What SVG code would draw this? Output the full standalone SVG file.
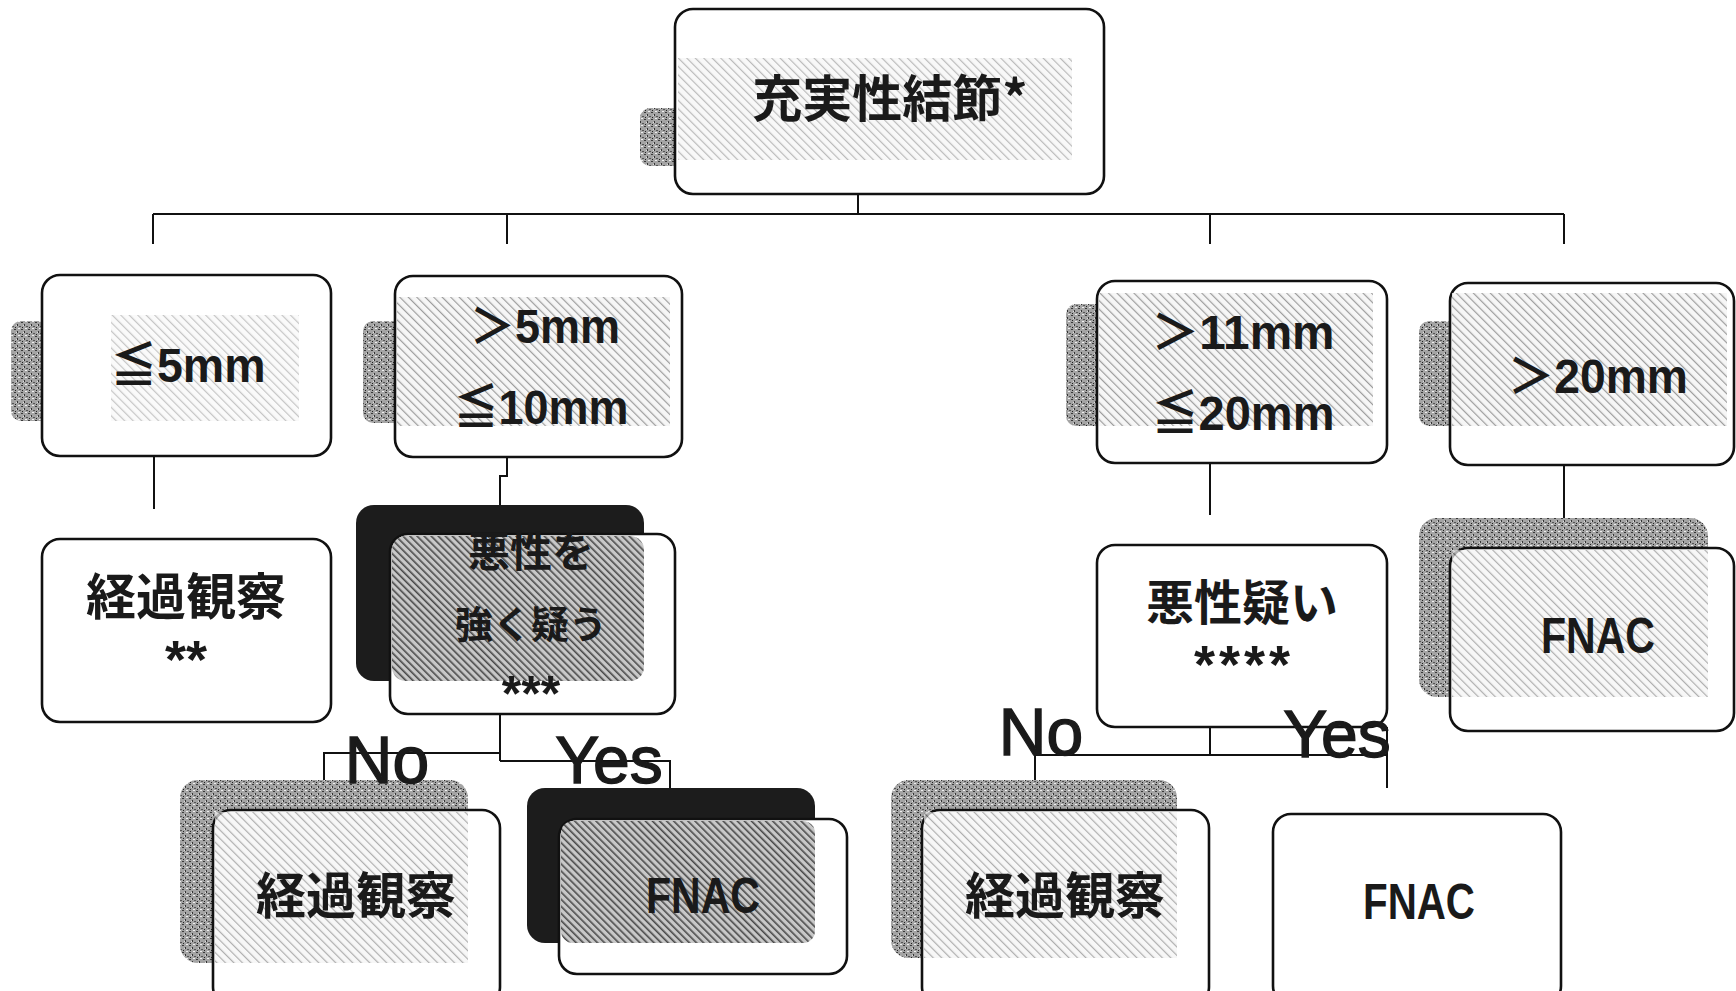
<svg xmlns="http://www.w3.org/2000/svg" width="1736" height="991" viewBox="0 0 1736 991">
<defs>
<pattern id="hatchL" width="6" height="6" patternUnits="userSpaceOnUse" patternTransform="rotate(-45)">
<rect width="6" height="6" fill="#f4f4f4"/><rect x="0" y="0" width="1.2" height="6" fill="#8c8c8c"/>
</pattern>
<pattern id="hatchD" width="5" height="5" patternUnits="userSpaceOnUse" patternTransform="rotate(-45)">
<rect width="5" height="5" fill="#c8c8c8"/><rect x="0" y="0" width="1.6" height="5" fill="#4a4a4a"/>
</pattern>
<pattern id="stip" width="7" height="7" patternUnits="userSpaceOnUse">
<rect width="7" height="7" fill="#a4a4a4"/>
<rect x="0" y="0" width="2" height="1" fill="#3a3a3a"/>
<rect x="3" y="2" width="1" height="2" fill="#333"/>
<rect x="5" y="4" width="2" height="1" fill="#555"/>
<rect x="1" y="5" width="1" height="1" fill="#222"/>
<rect x="4" y="6" width="2" height="1" fill="#eee"/>
<rect x="2" y="3" width="1" height="1" fill="#ddd"/>
</pattern>
<style>
.box{fill:#fff;stroke:#111;stroke-width:2.6}
.hl{fill:url(#hatchL)}
.hd{fill:url(#hatchD)}
.st{fill:url(#stip)}
.dk{fill:#1c1c1c}
.ln{fill:none;stroke:#111;stroke-width:2}
.jp{font-family:"Noto Sans CJK JP",sans-serif;font-weight:bold;fill:#1a1a1a;text-anchor:middle}
.mm{font-family:"Liberation Sans","Noto Sans CJK JP",sans-serif;font-weight:bold;fill:#1a1a1a;text-anchor:middle}
.yn{font-family:"Liberation Sans",sans-serif;fill:#1a1a1a;stroke:#1a1a1a;stroke-width:1.4;text-anchor:middle;font-size:66px}
</style>
</defs>
<rect width="1736" height="991" fill="#fff"/>
<g id="connectors">
<path class="ln" d="M858,194V214M153,214H1564M153,214V244M507,214V244M1210,214V244M1564,214V244"/>
<path class="ln" d="M154,456V509"/>
<path class="ln" d="M507,457V476H500V761"/>
<path class="ln" d="M500,753H324V781M500,761H670V788"/>
<path class="ln" d="M1210,463V515"/>
<path class="ln" d="M1210,727V755M1035,755H1387M1035,755V780M1387,727V788"/>
<path class="ln" d="M1564,465V520"/>
</g>
<g id="n-top">
<rect class="st" x="640" y="108" width="48" height="58" rx="10"/>
<rect class="box" x="675" y="9" width="429" height="185" rx="18"/>
<rect class="hl" x="678" y="58" width="394" height="102" opacity="0.6"/>
<text class="jp" x="890" y="117" font-size="50">充実性結節*</text>
</g>
<g id="n-le5">
<rect class="st" x="11" y="321" width="45" height="100" rx="10"/>
<rect class="box" x="42" y="275" width="289" height="181" rx="18"/>
<rect class="hl" x="111" y="315" width="188" height="106" opacity="0.5"/>
<text class="mm" x="188" y="382" font-size="48" textLength="155" lengthAdjust="spacingAndGlyphs">≦5mm</text>
</g>
<g id="n-5-10">
<rect class="st" x="363" y="321" width="45" height="102" rx="10"/>
<rect class="box" x="395" y="276" width="287" height="181" rx="18"/>
<rect class="hl" x="397" y="297" width="273" height="129" opacity="0.85"/>
<text class="mm" x="545" y="343" font-size="48" textLength="150" lengthAdjust="spacingAndGlyphs">＞5mm</text>
<text class="mm" x="541" y="424" font-size="48" textLength="175" lengthAdjust="spacingAndGlyphs">≦10mm</text>
</g>
<g id="n-11-20">
<rect class="st" x="1066" y="304" width="45" height="122" rx="10"/>
<rect class="box" x="1097" y="281" width="290" height="182" rx="18"/>
<rect class="hl" x="1099" y="293" width="274" height="133" opacity="0.85"/>
<text class="mm" x="1243" y="349" font-size="48" textLength="183" lengthAdjust="spacingAndGlyphs">＞11mm</text>
<text class="mm" x="1243" y="430" font-size="48" textLength="183" lengthAdjust="spacingAndGlyphs">≦20mm</text>
</g>
<g id="n-gt20">
<rect class="st" x="1419" y="321" width="45" height="105" rx="10"/>
<rect class="box" x="1450" y="283" width="284" height="182" rx="18"/>
<rect class="hl" x="1452" y="293" width="275" height="133" opacity="0.85"/>
<text class="mm" x="1598" y="393" font-size="48" textLength="180" lengthAdjust="spacingAndGlyphs">＞20mm</text>
</g>
<g id="n-obs1">
<rect class="box" x="42" y="539" width="289" height="183" rx="18"/>
<text class="jp" x="186" y="615" font-size="50">経過観察</text>
<text class="mm" x="186" y="678" font-size="54">**</text>
</g>
<g id="n-strong">
<rect class="dk" x="356" y="505" width="288" height="176" rx="18"/>
<rect class="box" x="390" y="534" width="285" height="180" rx="18"/>
<rect class="hd" x="392" y="536" width="252" height="145" rx="14"/>
<text class="jp" x="531" y="567" font-size="42">悪性を</text>
<text class="jp" x="531" y="638" font-size="38">強く疑う</text>
<text class="mm" x="531" y="711" font-size="50">***</text>
</g>
<g id="n-susp">
<rect class="box" x="1097" y="545" width="290" height="182" rx="18"/>
<text class="jp" x="1242" y="620" font-size="48">悪性疑い</text>
<text class="mm" x="1242" y="683" font-size="54" textLength="96" lengthAdjust="spacing">****</text>
</g>
<g id="n-fnac1">
<rect class="st" x="1419" y="518" width="289" height="179" rx="18"/>
<rect class="box" x="1450" y="548" width="284" height="183" rx="18"/>
<rect class="hl" x="1452" y="550" width="256" height="147" opacity="0.7"/>
<text class="mm" x="1598" y="653" font-size="50" textLength="114" lengthAdjust="spacingAndGlyphs">FNAC</text>
</g>
<g id="n-obs2">
<rect class="st" x="180" y="780" width="288" height="183" rx="18"/>
<rect class="box" x="213" y="810" width="287" height="195" rx="18"/>
<rect class="hl" x="215" y="812" width="253" height="151" opacity="0.7"/>
<text class="jp" x="356" y="914" font-size="50">経過観察</text>
</g>
<g id="n-fnac2">
<rect class="dk" x="527" y="788" width="288" height="155" rx="18"/>
<rect class="box" x="559" y="819" width="288" height="155" rx="18"/>
<rect class="hd" x="561" y="821" width="254" height="122" rx="12"/>
<text class="mm" x="703" y="913" font-size="50" textLength="114" lengthAdjust="spacingAndGlyphs">FNAC</text>
</g>
<g id="n-obs3">
<rect class="st" x="891" y="780" width="286" height="178" rx="18"/>
<rect class="box" x="922" y="810" width="287" height="195" rx="18"/>
<rect class="hl" x="924" y="812" width="253" height="146" opacity="0.7"/>
<text class="jp" x="1065" y="914" font-size="50">経過観察</text>
</g>
<g id="n-fnac3">
<rect class="box" x="1273" y="814" width="288" height="190" rx="18"/>
<text class="mm" x="1419" y="919" font-size="50" textLength="112" lengthAdjust="spacingAndGlyphs">FNAC</text>
</g>
<g id="labels">
<text class="yn" x="387" y="783">No</text>
<text class="yn" x="609" y="783">Yes</text>
<text class="yn" x="1041" y="755">No</text>
<text class="yn" x="1337" y="757">Yes</text>
</g>
</svg>
